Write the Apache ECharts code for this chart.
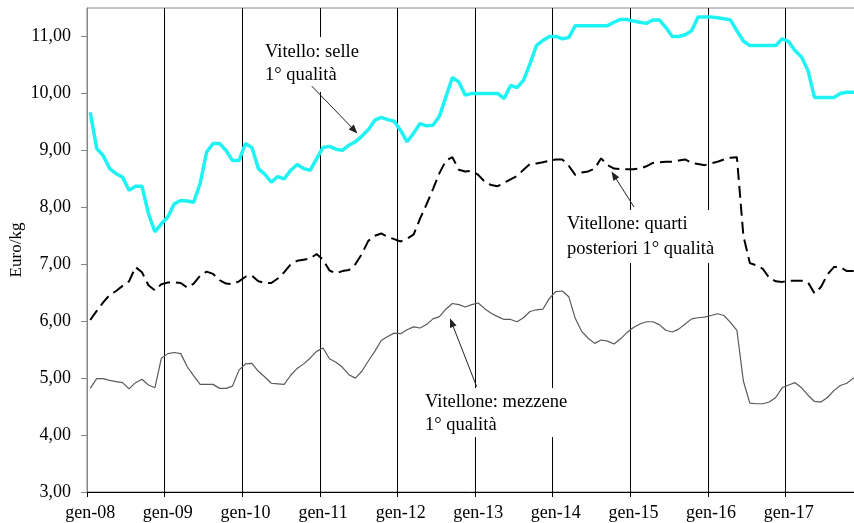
<!DOCTYPE html>
<html>
<head>
<meta charset="utf-8">
<script src="https://cdn.jsdelivr.net/npm/echarts@6/dist/echarts.min.js"></script>
<style>
  html, body { margin: 0; padding: 0; background: #fff; }
  #main { width: 854px; height: 523px; }
</style>
</head>
<body>
<div id="main"></div>
<script>
// mesi e anni (asse x)
var monthNames = ['gen', 'feb', 'mar', 'apr', 'mag', 'giu', 'lug', 'ago', 'set', 'ott', 'nov', 'dic'];
var years = ['08', '09', '10', '11', '12', '13', '14', '15', '16', '17'];
var yTicks = [3, 4, 5, 6, 7, 8, 9, 10, 11];

// Vitello: selle 1° qualità (euro/kg)
var vitelloSelle = [
    9.67, 9.03, 8.91, 8.68, 8.59, 8.53, 8.30, 8.37, 8.37, 7.89, 7.57, 7.71,
    7.83, 8.06, 8.12, 8.11, 8.09, 8.42, 8.97, 9.12, 9.12, 9.00, 8.82, 8.82,
    9.12, 9.05, 8.68, 8.58, 8.44, 8.54, 8.50, 8.65, 8.75, 8.68, 8.65, 8.85,
    9.05, 9.07, 9.02, 9.00, 9.09, 9.15, 9.25, 9.36, 9.53, 9.58, 9.54, 9.51,
    9.35, 9.15, 9.30, 9.47, 9.43, 9.44, 9.60, 9.94, 10.28, 10.20, 9.97, 10.00,
    10.00, 10.00, 10.00, 10.00, 9.91, 10.14, 10.10, 10.23, 10.52, 10.84, 10.93, 11.00,
    11.00, 10.96, 10.98, 11.19, 11.19, 11.19, 11.19, 11.19, 11.19, 11.25, 11.30, 11.30,
    11.27, 11.25, 11.23, 11.29, 11.29, 11.16, 11.00, 11.00, 11.03, 11.10, 11.34, 11.34,
    11.34, 11.33, 11.31, 11.29, 11.10, 10.92, 10.84, 10.84, 10.84, 10.84, 10.84, 10.96,
    10.91, 10.75, 10.64, 10.40, 9.93, 9.93, 9.93, 9.93, 10.00, 10.02, 10.02, 10.02
];

// Vitellone: quarti posteriori 1° qualità
var quartiPosteriori = [
    6.02, 6.18, 6.33, 6.46, 6.53, 6.62, 6.70, 6.95, 6.86, 6.63, 6.54, 6.65,
    6.68, 6.68, 6.67, 6.59, 6.66, 6.80, 6.87, 6.83, 6.72, 6.66, 6.65, 6.70,
    6.78, 6.80, 6.70, 6.67, 6.67, 6.75, 6.86, 7.00, 7.06, 7.08, 7.10, 7.18,
    7.08, 6.89, 6.84, 6.88, 6.90, 7.00, 7.18, 7.41, 7.50, 7.54, 7.48, 7.44,
    7.40, 7.45, 7.52, 7.80, 8.05, 8.32, 8.60, 8.82, 8.88, 8.66, 8.63, 8.64,
    8.57, 8.45, 8.39, 8.37, 8.43, 8.49, 8.55, 8.66, 8.76, 8.77, 8.79, 8.82,
    8.84, 8.84, 8.73, 8.57, 8.61, 8.63, 8.68, 8.86, 8.74, 8.68, 8.67, 8.67,
    8.67, 8.68, 8.72, 8.78, 8.79, 8.80, 8.80, 8.82, 8.84, 8.78, 8.76, 8.74,
    8.77, 8.80, 8.84, 8.87, 8.88, 7.50, 7.02, 6.98, 6.92, 6.76, 6.70, 6.69,
    6.71, 6.71, 6.71, 6.68, 6.49, 6.60, 6.82, 6.95, 6.95, 6.88, 6.88, 6.88
];

// Vitellone: mezzene 1° qualità
var mezzene = [
    4.82, 4.99, 4.99, 4.96, 4.94, 4.92, 4.81, 4.92, 4.98, 4.88, 4.83, 5.35,
    5.43, 5.45, 5.43, 5.20, 5.04, 4.89, 4.89, 4.89, 4.82, 4.82, 4.86, 5.14,
    5.25, 5.26, 5.12, 5.02, 4.91, 4.90, 4.89, 5.05, 5.17, 5.25, 5.35, 5.47,
    5.53, 5.34, 5.28, 5.19, 5.06, 5.00, 5.12, 5.30, 5.47, 5.66, 5.73, 5.79,
    5.78, 5.85, 5.90, 5.88, 5.94, 6.04, 6.08, 6.21, 6.31, 6.29, 6.25, 6.29,
    6.32, 6.22, 6.14, 6.08, 6.03, 6.03, 5.99, 6.06, 6.17, 6.20, 6.21, 6.40,
    6.52, 6.53, 6.43, 6.05, 5.82, 5.70, 5.61, 5.67, 5.65, 5.60, 5.69, 5.80,
    5.89, 5.95, 5.99, 5.99, 5.94, 5.84, 5.81, 5.86, 5.95, 6.04, 6.06, 6.07,
    6.10, 6.13, 6.10, 5.98, 5.84, 4.95, 4.56, 4.55, 4.55, 4.58, 4.66, 4.83,
    4.88, 4.92, 4.83, 4.70, 4.59, 4.58, 4.66, 4.78, 4.87, 4.91, 5.00, 5.02
];

var categories = [];
years.forEach(function (y) {
    monthNames.forEach(function (m) { categories.push(m + '-' + y); });
});

var serif = '"Liberation Serif", "Times New Roman", serif';

// freccia: linea + punta piena
function arrow(x1, y1, x2, y2) {
    var a = Math.atan2(y2 - y1, x2 - x1), L = 9, W = 3.5;
    var bx = x2 - L * Math.cos(a), by = y2 - L * Math.sin(a);
    var px = -Math.sin(a) * W, py = Math.cos(a) * W;
    return [
        {type: 'line', z: 10, shape: {x1: x1, y1: y1, x2: bx, y2: by},
            style: {stroke: '#222', lineWidth: 1}},
        {type: 'polygon', z: 10, shape: {points: [[x2, y2], [bx + px, by + py], [bx - px, by - py]]},
            style: {fill: '#222'}}
    ];
}

function label(text, x, y, lh) {
    return {type: 'text', z: 10, x: x, y: y,
        style: {text: text, font: '18.5px ' + serif, fill: '#000', lineHeight: lh, verticalAlign: 'top'}};
}

function whiteBox(x, y, w, h) {
    return {type: 'rect', z: 1, shape: {x: x, y: y, width: w, height: h}, style: {fill: '#fff'}};
}

var myChart = echarts.init(document.getElementById('main'));

option = {
    animation: false,
    backgroundColor: '#fff',
    grid: {
        left: 87,
        top: 8,
        right: -9,
        bottom: 31,
        show: true,
        borderColor: '#868686',
        borderWidth: 1,
        outerBoundsMode: 'none'
    },
    xAxis: {
        type: 'category',
        data: categories,
        boundaryGap: true,
        axisLine: {lineStyle: {color: '#000', width: 1}},
        axisTick: {show: true, interval: 11, alignWithLabel: false, length: 5, lineStyle: {color: '#000'}},
        axisLabel: {interval: 11, margin: 12, color: '#000', fontFamily: serif, fontSize: 18},
        splitLine: {show: true, interval: 11, lineStyle: {color: '#000', width: 1}}
    },
    yAxis: {
        type: 'value',
        min: 3,
        max: 11.5,
        interval: 1,
        name: 'Euro/kg',
        nameLocation: 'middle',
        nameRotate: 90,
        nameGap: 62,
        nameMoveOverlap: false,
        nameTextStyle: {color: '#000', fontFamily: serif, fontSize: 17},
        axisLine: {show: true, lineStyle: {color: '#868686'}},
        axisTick: {show: true, length: 6, customValues: yTicks, lineStyle: {color: '#868686'}},
        axisLabel: {
            customValues: yTicks,
            margin: 16,
            color: '#000',
            fontFamily: serif,
            fontSize: 18,
            formatter: function (v) { return v.toFixed(2).replace('.', ','); }
        },
        splitLine: {show: false}
    },
    graphic: [].concat(
        whiteBox(258, 37, 114, 55),
        whiteBox(560, 210, 166, 53),
        whiteBox(419, 388, 160, 49),
        label('Vitello: selle\n1° qualità', 265, 41, 23),
        label('Vitellone: quarti\nposteriori 1° qualità', 567, 212, 25),
        label('Vitellone: mezzene\n1° qualità', 425, 391, 23),
        arrow(311.7, 86, 357.5, 133.5),
        arrow(634, 207, 611.5, 171.5),
        arrow(476.7, 386.7, 450, 318.3)
    ),
    series: [
        {
            name: 'Vitellone: mezzene 1° qualità',
            type: 'line',
            data: mezzene,
            symbol: 'none',
            lineStyle: {color: '#5a5a5a', width: 1.2}
        },
        {
            name: 'Vitellone: quarti posteriori 1° qualità',
            type: 'line',
            data: quartiPosteriori,
            symbol: 'none',
            lineStyle: {color: '#000', width: 2, type: [12, 6]}
        },
        {
            name: 'Vitello: selle 1° qualità',
            type: 'line',
            data: vitelloSelle,
            symbol: 'none',
            lineStyle: {color: '#1ff2f2', width: 3.5}
        }
    ]
};

myChart.setOption(option);
</script>
</body>
</html>
